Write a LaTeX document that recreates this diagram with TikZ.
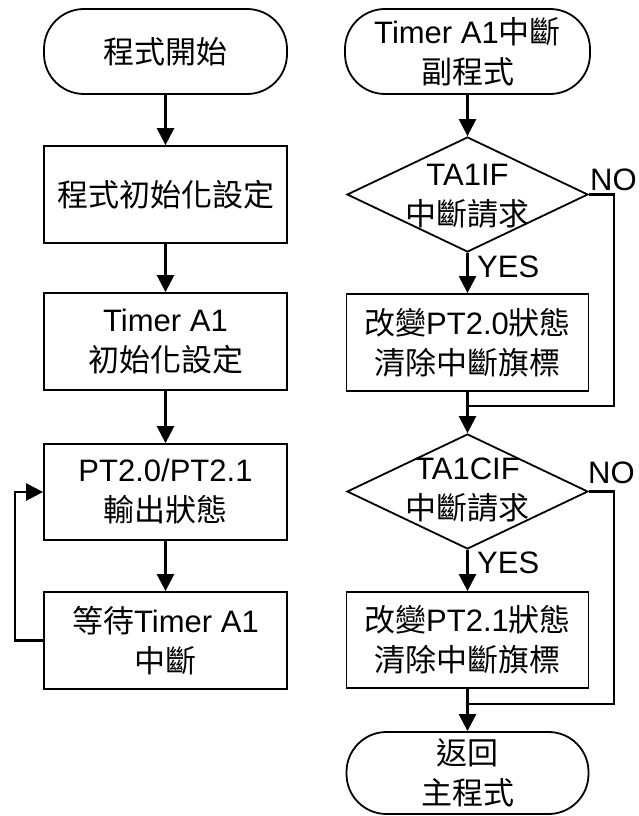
\documentclass[tikz,border=0pt]{standalone}
\usepackage{fontspec}
\setmainfont{Liberation Sans}
\newfontfamily\cjk{Noto Sans CJK TC}
\newcommand\zht[1]{{\cjk #1}}
\usetikzlibrary{arrows.meta,shapes.geometric}
\begin{document}
\begin{tikzpicture}[x=1pt,y=-1pt,
  every node/.style={font=\fontsize{31}{40}\selectfont, align=center, inner sep=0pt},
  box/.style={draw, line width=1.8pt, minimum width=243pt, minimum height=97pt},
  term/.style={draw, line width=1.8pt, rounded corners=40pt, minimum width=243pt, minimum height=85pt},
  decision/.style={draw, diamond, line width=1.8pt, minimum width=241pt, minimum height=115pt},
  flow/.style={line width=2.5pt, -{Triangle[width=17pt,length=17pt]}},
  link/.style={line width=2.5pt}]
\useasboundingbox (0,0) rectangle (638,816);

% main program
\node[term] (start) at (165.5,51.5) {\zht{程式開始}};
\node[box] (init) at (165.5,194.5) {\zht{程式初始化設定}};
\node[box] (tinit) at (165.5,341.5) {Timer A1\\\zht{初始化設定}};
\node[box, minimum height=96pt] (out) at (165.5,492) {PT2.0/PT2.1\\\zht{輸出狀態}};
\node[box] (wait) at (165.5,640.5) {\zht{等待}Timer A1\\\zht{中斷}};

\draw[flow] (start) -- (init);
\draw[flow] (init) -- (tinit);
\draw[flow] (tinit) -- (out);
\draw[flow] (out) -- (wait);
\draw[flow] (wait.west) -- ++(-28,0) |- (out.west);

% interrupt service routine
\node[term, minimum width=245pt] (sub) at (467.5,51.5) {Timer A1\zht{中斷}\\\zht{副程式}};
\node[decision] (d1) at (467.5,194.5) {};
\node (d1t) at (467.5,196) {TA1IF\\\zht{中斷請求}};
\node[box, minimum width=242pt] (chg0) at (467.5,342.5) {\zht{改變}PT2.0\zht{狀態}\\\zht{清除中斷旗標}};
\node[decision] (d2) at (467.5,491.5) {};
\node (d2t) at (467.5,490) {TA1CIF\\\zht{中斷請求}};
\node[box, minimum width=242pt, minimum height=96pt] (chg1) at (467.5,640) {\zht{改變}PT2.1\zht{狀態}\\\zht{清除中斷旗標}};
\node[term, minimum width=242pt, minimum height=82pt] (ret) at (467.5,773) {\zht{返回}\\\zht{主程式}};

\coordinate (j1) at (467.5,406);
\coordinate (j2) at (467.5,704);

\draw[flow] (sub) -- (d1);
\draw[flow] (d1) -- (chg0);
\draw[flow] (chg0) -- (d2);
\draw[flow] (d2) -- (chg1);
\draw[flow] (chg1) -- (ret);
\draw[link] (d1.east) -- ++(25,0) |- (j1);
\draw[link] (d2.east) -- ++(25,0) |- (j2);

\node[anchor=base west] (no1) at (590,190) {NO};
\node[anchor=base west] (yes1) at (477,277) {YES};
\node[anchor=base west] (no2) at (588,483) {NO};
\node[anchor=base west] (yes2) at (477,573) {YES};
\end{tikzpicture}
\end{document}
